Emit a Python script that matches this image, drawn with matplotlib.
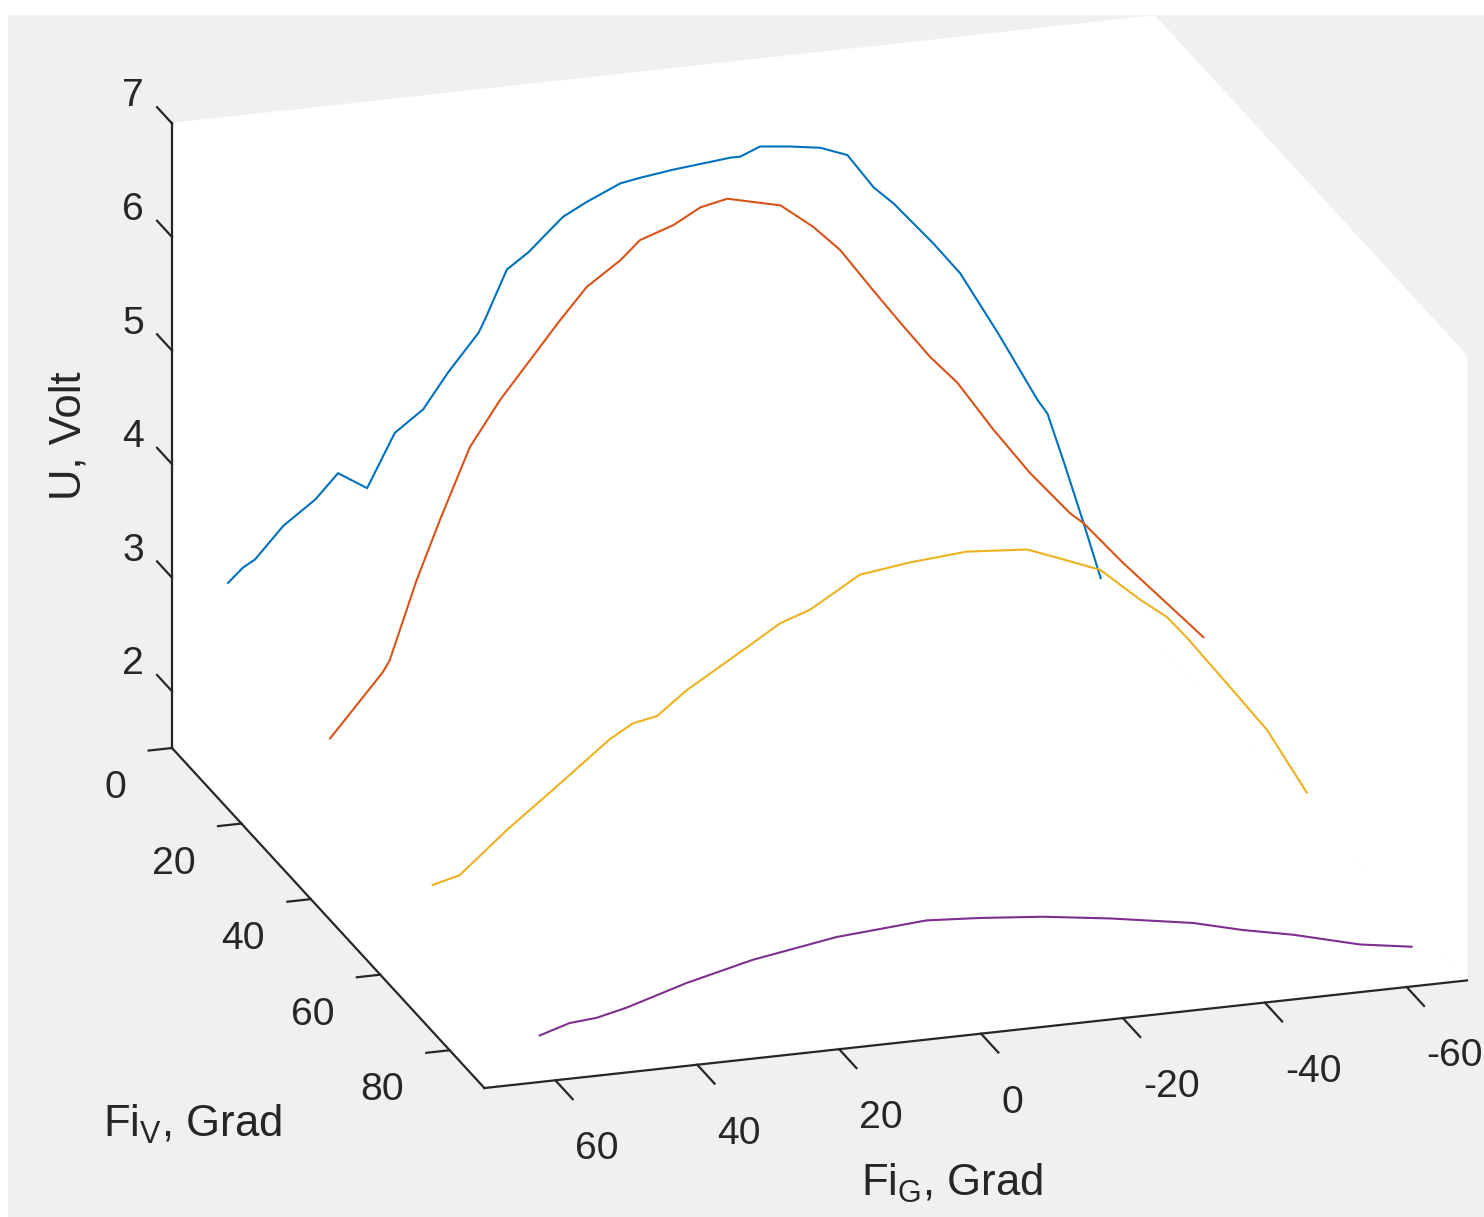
import numpy as np
import matplotlib
matplotlib.use("Agg")
import matplotlib.pyplot as plt
from matplotlib.patches import Rectangle
from mpl_toolkits.mplot3d import proj3d
from mpl_toolkits.mplot3d.art3d import Poly3DCollection

plt.rcParams['font.family'] = ['Liberation Sans', 'DejaVu Sans']
plt.rcParams['mathtext.fontset'] = 'custom'
plt.rcParams['mathtext.rm'] = 'Liberation Sans'
plt.rcParams['mathtext.it'] = 'Liberation Sans:italic'
plt.rcParams['mathtext.bf'] = 'Liberation Sans:bold'

# Output voltage U (Volt) versus horizontal angle FiG (deg),
# one sweep for each vertical angle FiV (deg)
fi_v = [0, 30, 60, 90]

fi_g_0 = [62.1, 60.0, 58.3, 54.3, 49.8, 46.6, 42.5, 38.6, 34.6, 31.1, 26.8, 25.9,
          22.8, 19.8, 14.9, 11.5, 6.8, 4.0, -0.7, -8.7, -10.1, -12.9, -17.2, -21.4,
          -25.2, -28.9, -31.7, -37.3, -41.1, -46.4, -52.0, -53.4, -55.7, -58.5, -60.9]
u_0 = [2.90, 3.02, 3.08, 3.35, 3.55, 3.76, 3.60, 4.06, 4.24, 4.54, 4.86, 4.97,
       5.39, 5.52, 5.80, 5.91, 6.04, 6.07, 6.11, 6.16, 6.16, 6.23, 6.20, 6.16,
       6.07, 5.76, 5.60, 5.21, 4.92, 4.36, 3.73, 3.60, 3.16, 2.60, 2.10]

fi_g_30 = [62.4, 55.0, 54.0, 50.2, 46.9, 42.7, 38.4, 33.8, 30.0, 26.2, 21.5, 18.7,
           14.0, 10.2, 6.4, -1.1, -5.7, -9.5, -13.7, -18.0, -22.2, -26.0, -31.1,
           -36.3, -41.9, -43.8, -49.4, -60.7]
u_30 = [2.53, 3.06, 3.16, 3.84, 4.35, 4.96, 5.35, 5.70, 5.99, 6.26, 6.46, 6.62,
        6.72, 6.85, 6.90, 6.79, 6.57, 6.34, 5.99, 5.64, 5.31, 5.06, 4.61,
        4.19, 3.80, 3.70, 3.31, 2.58]

fi_g_60 = [62.6, 58.8, 52.2, 45.7, 37.7, 34.4, 31.0, 26.8, 18.3, 13.6, 9.4, 2.4,
           -4.7, -12.7, -21.2, -25.8, -31.5, -37.1, -40.9, -43.7, -50.2, -55.0, -60.6]
u_60 = [2.24, 2.30, 2.65, 2.96, 3.35, 3.47, 3.51, 3.71, 4.03, 4.21, 4.30, 4.56,
        4.62, 4.66, 4.62, 4.51, 4.37, 4.07, 3.89, 3.69, 3.18, 2.80, 2.21]

fi_g_90 = [62.2, 58.0, 54.2, 50.0, 41.5, 32.2, 20.4, 7.7, 0.2, -8.7, -18.2,
           -29.9, -36.9, -44.0, -53.4, -60.7]
u_90 = [1.91, 1.99, 2.01, 2.07, 2.23, 2.37, 2.49, 2.55, 2.52, 2.47, 2.39,
        2.27, 2.16, 2.07, 1.92, 1.85]

line_colors = ['#0072BD', '#D95319', '#EDB120', '#7E2F8E']

x_ticks = [-60, -40, -20, 0, 20, 40, 60]
y_ticks = [0, 20, 40, 60, 80]
z_ticks = [2, 3, 4, 5, 6, 7]
x_lim = (-68.5, 70)
y_lim = (0, 90)
z_lim = (1.5, 7)

W, H, DPI = 1484, 1217, 100
INK = '#262626'
TICK_FS = 28.2
LABEL_FS = 31.4

fig = plt.figure(figsize=(W / DPI, H / DPI), dpi=DPI, facecolor='white')
fig.patches.append(Rectangle((8 / W, 0), 1, 1 - 15 / H, transform=fig.transFigure,
                             facecolor='#f0f0f0', edgecolor='none', zorder=-10))

ax = fig.add_axes([0, 0, 1, 1], projection='3d')
ax.set_proj_type('ortho')
ax.view_init(elev=20.2, azim=72.4)
ax.set_xlim(*x_lim)
ax.set_ylim(*y_lim)
ax.set_zlim(*z_lim)
ax.set_box_aspect((7.44 * (x_lim[1] - x_lim[0]),
                   11.475 * (y_lim[1] - y_lim[0]),
                   120.95 * (z_lim[1] - z_lim[0])))
ax.set_axis_off()
ax.patch.set_visible(False)
ax.computed_zorder = False

xa, xb = x_lim
ya, yb = y_lim
za, zb = z_lim

# white back planes of the box
walls = [
    [(xa, ya, za), (xb, ya, za), (xb, ya, zb), (xa, ya, zb)],
    [(xa, ya, za), (xa, yb, za), (xa, yb, zb), (xa, ya, zb)],
    [(xa, ya, za), (xb, ya, za), (xb, yb, za), (xa, yb, za)],
]
ax.add_collection3d(Poly3DCollection(walls, facecolors='white', edgecolors='white',
                                     linewidths=0.8, zorder=0))

# data curves
curves = [(fi_g_0, u_0), (fi_g_30, u_30), (fi_g_60, u_60), (fi_g_90, u_90)]
for (g, u), v, c in zip(curves, fi_v, line_colors):
    ax.plot(g, [v] * len(g), u, color=c, lw=1.5, zorder=2)

# axis lines
axis_kw = dict(color=INK, lw=1.6, solid_capstyle='projecting', zorder=3)
ax.plot([xb, xb], [ya, ya], [za, zb], **axis_kw)
ax.plot([xb, xb], [ya, yb], [za, za], **axis_kw)
ax.plot([xa, xb], [yb, yb], [za, za], **axis_kw)

tick_kw = dict(color=INK, lw=1.6, zorder=3)
for zt in z_ticks:
    ax.plot([xb, xb], [ya, ya - 4.3], [zt, zt], **tick_kw)
for yt in y_ticks:
    ax.plot([xb, xb + 3.3], [yt, yt], [za, za], **tick_kw)
for xt in x_ticks:
    ax.plot([xt, xt], [yb, yb + 5.0], [za, za], **tick_kw)

# axis titles
fig.text(69 / W, 1 - 436 / H, 'U, Volt', rotation=90, ha='center', va='center',
         fontsize=LABEL_FS, color=INK)
fig.text(103 / W, 1 - 1137 / H, r'Fi$_{\mathrm{V}}$, Grad', ha='left', va='baseline',
         fontsize=LABEL_FS, color=INK)
fig.text(861 / W, 1 - 1196 / H, r'Fi$_{\mathrm{G}}$, Grad', ha='left', va='baseline',
         fontsize=LABEL_FS, color=INK)

# place the projected box: corner (70, 0, 1.5) and corner (-68.5, 90, 7)
fig.canvas.draw()


def to_px(x, y, z):
    xs, ys, _ = proj3d.proj_transform(np.array([x]), np.array([y]), np.array([z]),
                                      ax.get_proj())
    return ax.transData.transform((xs[0], ys[0]))


p_o = to_px(xb, ya, za)
p_p = to_px(xa, yb, zb)
t_o = np.array([172.0, H - 748.0])
t_p = np.array([172.0 + 7.09 * (xb - xa) + 3.478 * yb,
                H - (748.0 + 0.779 * (xa - xb) + 3.778 * yb - 113.5 * (zb - za))])
k = np.linalg.norm(t_p - t_o) / np.linalg.norm(p_p - p_o)
bb = ax.get_position()
L = np.array([bb.x0 * W, bb.y0 * H])
S = bb.width * W
L_new = t_o - k * (p_o - L)
ax.set_position([L_new[0] / W, L_new[1] / H, k * S / W, k * S / H])


# tick labels, anchored at the projected tick positions
def tick_text(x, y, z, s, dx, dy, ha):
    px, py = to_px(x, y, z)
    fig.text((px + dx) / W, (py + dy) / H, s, ha=ha, va='center',
             fontsize=TICK_FS, color=INK)


for zt in z_ticks:
    tick_text(xb, ya, zt, str(zt), -28, 27, 'right')
for yt in y_ticks:
    tick_text(xb, yt, za, str(yt), -46, -40, 'right')
for xt in x_ticks:
    tick_text(xt, yb, za, str(xt), 20, -69, 'left')

fig.savefig('out.png', dpi=DPI)
